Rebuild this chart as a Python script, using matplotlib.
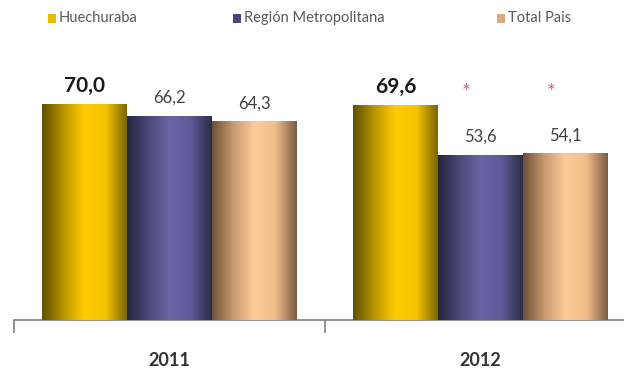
import numpy as np
import matplotlib
matplotlib.use("Agg")
import matplotlib.pyplot as plt
from matplotlib.colors import LinearSegmentedColormap
from matplotlib.patches import Rectangle

years = ["2011", "2012"]
series = ["Huechuraba", "Región Metropolitana", "Total Pais"]
values = {
    "Huechuraba": [70.0, 69.6],
    "Región Metropolitana": [66.2, 53.6],
    "Total Pais": [64.3, 54.1],
}
labels = {
    "Huechuraba": ["70,0", "69,6"],
    "Región Metropolitana": ["66,2", "53,6"],
    "Total Pais": ["64,3", "54,1"],
}
stars = {
    "Huechuraba": ["", ""],
    "Región Metropolitana": ["", "*"],
    "Total Pais": ["", "*"],
}

grad_colors = {
    "Huechuraba": ["#5E5000", "#B89400", "#FFCC00", "#F5C400", "#7A6400"],
    "Región Metropolitana": ["#25253F", "#4A4878", "#6A66A6", "#5E5A98", "#2C2C48"],
    "Total Pais": ["#6E5038", "#C89A70", "#FFCC99", "#F0BC8A", "#7A5C42"],
}
legend_colors = {
    "Huechuraba": "#E6C000",
    "Región Metropolitana": "#4A4878",
    "Total Pais": "#D9AA80",
}

fig = plt.figure(figsize=(6.24, 3.73), dpi=100)
ax = fig.add_axes([14/624, 53/373, 622/624, 247/373])
plt.rcParams['font.family'] = ['Lato', 'DejaVu Sans']

x = np.arange(len(years))
width = 0.273
offsets = [-width, 0, width]

grad = np.linspace(0, 1, 256).reshape(1, -1)
for s, off in zip(series, offsets):
    bars = ax.bar(x + off, values[s], width, color=grad_colors[s][2], linewidth=0, zorder=2)
    cmap = LinearSegmentedColormap.from_list(s, grad_colors[s])
    for i, b in enumerate(bars):
        x0, h = b.get_x(), b.get_height()
        im = ax.imshow(grad, cmap=cmap, aspect='auto', extent=(x0, x0 + b.get_width(), 0, h),
                       zorder=3, interpolation='bilinear')
        im.set_clip_path(b)
        bold = (s == "Huechuraba")
        ax.annotate(labels[s][i], (x0 + b.get_width()/2, h), xytext=(0, 6 if bold else 7),
                    textcoords='offset points', ha='center', va='bottom',
                    fontsize=15 if bold else 12, fontweight='bold' if bold else 'normal',
                    color='#1a1a1a' if bold else '#404040', family=['Lato', 'DejaVu Sans'])
        if stars[s][i]:
            ax.text(x0 + b.get_width()/2 - 0.045, 73.5, stars[s][i], ha='center', va='center',
                    fontsize=15, color='#D8608A', family=['Lato', 'DejaVu Sans'])

ax.set_xlim(-0.5, 1.5)
ax.set_ylim(0, 80)
ax.set_yticks([])
ax.set_xticks(x)
ax.set_xticklabels(years, fontsize=13, fontweight='bold', color='#333333', family=['Lato', 'DejaVu Sans'])
ax.tick_params(axis='x', which='major', length=0, pad=23)
ax.set_xticks([-0.5, 0.5, 1.5], minor=True)
ax.tick_params(axis='x', which='minor', length=9, color='#7f7f7f', width=1.2)
for sp in ['top', 'right', 'left']:
    ax.spines[sp].set_visible(False)
ax.spines['bottom'].set_color('#7f7f7f')
ax.spines['bottom'].set_linewidth(1.2)

# legend
leg_x = [48, 233, 497]
for s, lx in zip(series, leg_x):
    fig.patches.append(Rectangle((lx/624, (373-23)/373), 8/624, 9/373, transform=fig.transFigure,
                                 facecolor=legend_colors[s], edgecolor='none'))
    fig.text((lx + 11)/624, (373-18)/373, s, ha='left', va='center', fontsize=10.5,
             color='#595959', family=['Lato', 'DejaVu Sans'])

fig.savefig("out.png", dpi=100, facecolor='white')
